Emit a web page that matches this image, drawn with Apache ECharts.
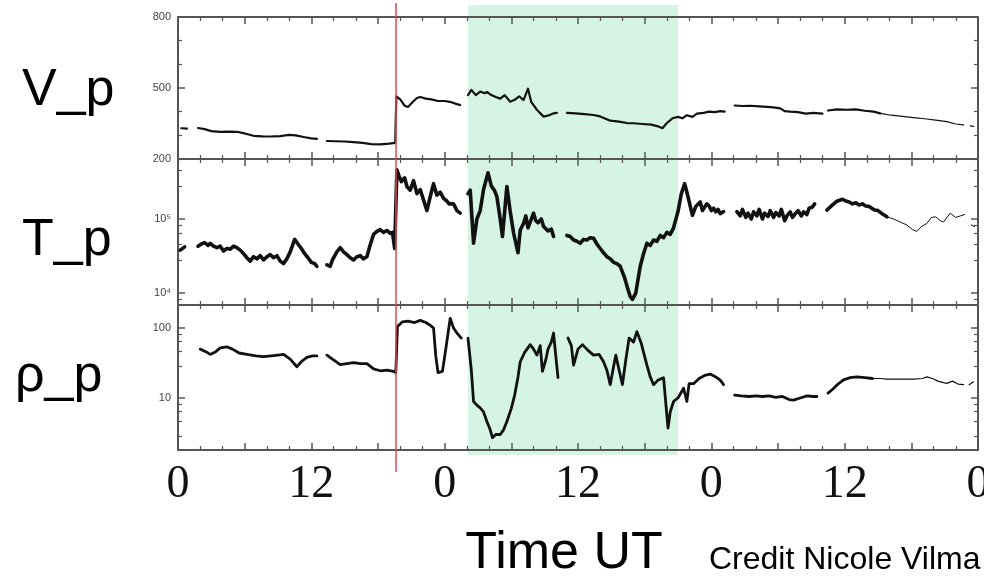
<!DOCTYPE html>
<html><head><meta charset="utf-8">
<script src="https://cdn.jsdelivr.net/npm/echarts@6/dist/echarts.min.js"></script>
<style>html,body{margin:0;padding:0;background:#fff}#c{width:984px;height:577px}</style>
</head><body><div id="c"></div>
<script>
// ---- axis / tick data ----
const hourTicks = [0, 12, 24, 36, 48, 60, 72];
const hourLabels = ['0', '12', '0', '12', '0', '12', '0'];
const vpTicks = [200, 500, 800];
const tpTicks = [1e4, 1e5];
const tpTickLabels = ['10\u2074', '10\u2075'];
const rhoTicks = [10, 100];
const rhoTickLabels = ['10', '100'];
const shockHour = 19.62;
const cloudStart = 26.1;
const cloudEnd = 45.0;

// ---- V_p (km/s) : [hour, value] ----
const vpData = [[0.3,330],[0.8,328],[1.0,null],
 [1.8,331],[2.4,326],[3.0,318],[3.8,315],[4.6,316],[5.3,315],[6.0,308],[6.8,298],[7.6,296],[8.3,295],[9.2,297],[10.0,302],[10.6,300],[11.3,293],[12.0,287],[12.5,285],[13.0,null],
 [13.4,276],[14.2,275],[15.0,274],[15.8,271],[16.6,268],[17.4,263],[18.2,262],[19.0,265],[19.55,268],[19.65,465],[20.0,452],[20.4,425],[20.7,420],[21.1,440],[21.5,458],[21.8,462],[22.3,455],[22.8,452],[23.4,445],[24.0,445],[24.6,440],[25.1,432],[25.4,428],[25.8,null],
 [26.1,470],[26.4,492],[26.8,470],[27.2,485],[27.6,478],[27.8,483],[28.2,470],[28.6,462],[29.0,455],[29.4,470],[29.9,442],[30.3,450],[30.7,465],[31.1,449],[31.5,497],[31.8,440],[32.3,408],[32.9,379],[33.4,385],[33.8,393],[34.1,395],[34.5,null],
 [35.0,395],[35.8,393],[36.6,390],[37.4,386],[38.0,380],[38.9,362],[39.7,358],[40.4,352],[41.0,351],[41.8,348],[42.6,345],[43.2,338],[43.6,330],[44.0,352],[44.5,372],[45.0,378],[45.4,372],[45.8,385],[46.3,378],[46.7,392],[47.3,395],[47.8,400],[48.3,398],[48.8,402],[49.2,400],[49.6,null],
 [50.1,426],[50.8,424],[51.5,425],[52.3,422],[53.0,420],[53.6,418],[54.2,414],[54.6,402],[55.1,400],[55.8,398],[56.5,392],[57.2,395],[58.0,392],[58.2,null],
 [58.5,405],[59.3,410],[60.2,408],[61.0,410],[61.8,404],[62.6,400],[63.2,393]];
const vpTail = [[63.2,393],[64.2,385],[65.2,380],[66.2,375],[67.2,370],[68.2,364],[69.2,358],[70.0,348],[70.7,344],[71.0,null],[71.3,340],[71.6,338]];

// ---- T_p (K) ----
const tpData = [[0.2,3.8e4],[0.6,4.2e4],[1.0,null],
 [1.8,4.3e4],[2.1,4.6e4],[2.4,4.8e4],[2.7,4.4e4],[2.9,4.7e4],[3.2,4.3e4],[3.5,4.1e4],[3.8,4.3e4],[4.1,3.7e4],[4.4,4.0e4],[4.7,3.9e4],[5.0,4.3e4],[5.3,4.1e4],[5.6,3.8e4],[5.9,3.4e4],[6.2,3.0e4],[6.5,2.7e4],[6.8,3.1e4],[7.1,2.9e4],[7.4,3.2e4],[7.7,2.8e4],[8.0,3.1e4],[8.3,3.3e4],[8.6,3.0e4],[8.9,3.2e4],[9.2,2.7e4],[9.5,2.5e4],[9.8,2.9e4],[10.1,3.6e4],[10.5,5.3e4],[10.8,4.6e4],[11.1,4.0e4],[11.4,3.4e4],[11.7,3.0e4],[12.0,2.6e4],[12.3,2.5e4],[12.5,2.3e4],[13.0,null],
 [13.4,2.4e4],[13.7,2.3e4],[13.9,2.8e4],[14.3,3.6e4],[14.6,4.1e4],[14.9,3.6e4],[15.2,3.3e4],[15.5,3.0e4],[15.8,2.8e4],[16.1,3.1e4],[16.4,3.2e4],[16.7,2.9e4],[17.0,3.1e4],[17.3,4.5e4],[17.6,6.2e4],[17.9,6.8e4],[18.2,7.2e4],[18.5,6.6e4],[18.8,7.0e4],[19.1,6.4e4],[19.3,6.6e4],[19.5,4.0e4],[19.7,4.6e5],[19.9,3.8e5],[20.1,3.2e5],[20.4,3.6e5],[20.6,2.75e5],[20.9,2.45e5],[21.2,3.3e5],[21.5,2.2e5],[21.8,2.5e5],[22.1,1.8e5],[22.4,1.3e5],[22.7,2.0e5],[23.0,3.0e5],[23.3,2.1e5],[23.6,2.3e5],[23.9,1.9e5],[24.2,1.75e5],[24.4,1.6e5],[24.8,1.6e5],[25.1,1.3e5],[25.4,1.2e5],[25.8,null],
 [26.1,2.2e5],[26.3,2.45e5],[26.6,4.7e4],[26.9,1.0e5],[27.2,1.3e5],[27.5,2.5e5],[27.9,4.2e5],[28.2,2.8e5],[28.5,2.4e5],[28.7,2.0e5],[29.0,1.0e5],[29.2,5.8e4],[29.4,1.26e5],[29.6,2.75e5],[29.9,1.26e5],[30.2,6.5e4],[30.6,3.5e4],[30.8,7.1e4],[31.1,8.7e4],[31.3,1.1e5],[31.5,7.6e4],[32.0,1.2e5],[32.2,9.5e4],[32.4,8.9e4],[32.7,1.0e5],[32.9,7.9e4],[33.3,6.9e4],[33.6,7.3e4],[33.8,5.8e4],[34.4,null],
 [35.0,6.0e4],[35.3,5.8e4],[35.6,5.2e4],[35.9,5.0e4],[36.2,4.7e4],[36.5,5.3e4],[36.8,5.2e4],[37.1,5.6e4],[37.4,5.5e4],[37.7,4.6e4],[38.0,4.0e4],[38.3,3.5e4],[38.6,3.1e4],[38.9,2.9e4],[39.2,2.6e4],[39.5,2.5e4],[39.8,2.3e4],[40.2,1.6e4],[40.5,1.12e4],[40.7,9.0e3],[40.9,8.2e3],[41.2,1.0e4],[41.6,2.3e4],[41.9,3.4e4],[42.2,4.7e4],[42.5,4.4e4],[42.8,5.2e4],[43.1,5.0e4],[43.4,6.0e4],[43.7,5.6e4],[44.0,6.6e4],[44.3,6.2e4],[44.6,7.6e4],[45.0,1.26e5],[45.3,2.2e5],[45.6,3.0e5],[45.9,2.0e5],[46.3,1.12e5],[46.6,1.48e5],[47.0,1.7e5],[47.2,1.3e5],[47.4,1.45e5],[47.6,1.6e5],[47.8,1.5e5],[48.0,1.3e5],[48.2,1.4e5],[48.4,1.25e5],[48.6,1.35e5],[48.8,1.18e5],[49.1,1.26e5],[49.6,null],
 [50.3,1.26e5],[50.6,1.1e5],[50.8,1.35e5],[51.1,1.05e5],[51.3,1.2e5],[51.6,1.0e5],[51.8,1.25e5],[52.1,1.1e5],[52.3,1.35e5],[52.6,1.0e5],[52.8,1.2e5],[53.1,1.08e5],[53.3,1.3e5],[53.6,1.05e5],[53.8,1.22e5],[54.1,1.1e5],[54.3,1.35e5],[54.6,9.5e4],[54.8,1.1e5],[55.1,1.25e5],[55.3,1.05e5],[55.6,1.2e5],[55.8,1.3e5],[56.1,1.1e5],[56.3,1.25e5],[56.6,1.15e5],[56.8,1.4e5],[57.1,1.45e5],[57.3,1.6e5],[57.8,null],
 [58.4,1.32e5],[58.8,1.5e5],[59.3,1.74e5],[59.8,1.85e5],[60.1,1.75e5],[60.4,1.7e5],[60.7,1.6e5],[61.0,1.66e5],[61.3,1.55e5],[61.6,1.6e5],[61.9,1.5e5],[62.2,1.48e5],[62.5,1.38e5],[62.7,1.32e5],[63.0,1.3e5],[63.3,1.2e5],[63.8,1.07e5]];
const tpTail = [[63.8,1.07e5],[64.4,1.0e5],[65.0,9.1e4],[65.6,8.3e4],[66.1,7.2e4],[66.5,6.8e4],[66.9,7.9e4],[67.4,8.7e4],[67.8,1.05e5],[68.2,1.07e5],[68.6,9.5e4],[68.9,9.1e4],[69.5,1.2e5],[70.0,1.05e5],[70.4,1.1e5],[70.8,1.15e5],[71.1,null],[71.4,8.3e4],[71.7,7.9e4]];

// ---- rho_p (cm^-3) ----
const rhoData = [[2.0,50],[2.5,46],[2.9,42],[3.4,46],[3.8,52],[4.4,54],[4.9,50],[5.5,44],[6.2,42],[7.0,40],[7.7,39],[8.4,40],[9.0,41],[9.5,42],[10.1,36],[10.7,28],[11.1,33],[11.6,38],[12.1,40],[12.5,40],[13.0,null],
 [13.4,41],[13.9,36],[14.6,30],[15.2,31],[15.8,32],[16.4,31],[17.0,31],[17.6,26],[18.2,24.5],[18.8,25],[19.4,24],[19.6,23],[19.75,105],[20.2,123],[20.7,126],[21.3,120],[21.8,129],[22.3,120],[22.7,110],[23.0,100],[23.2,40],[23.4,23],[23.8,24],[24.1,50],[24.5,138],[24.8,100],[25.1,85],[25.5,72],[25.8,null],
 [26.1,72],[26.4,25],[26.6,8.9],[26.9,7.9],[27.2,7.2],[27.5,6.3],[27.8,4.6],[28.1,3.5],[28.3,2.7],[28.6,3.0],[29.0,3.0],[29.3,3.5],[29.6,4.6],[30.0,7.1],[30.3,11],[30.6,20],[30.8,33],[31.2,45],[31.7,58],[32.0,50],[32.3,41],[32.6,56],[32.8,24],[33.1,35],[33.3,50],[33.6,63],[33.8,85],[34.0,40],[34.2,19.5],[34.6,null],
 [35.1,72],[35.4,56],[35.6,29.5],[36.0,50],[36.4,58],[36.9,48],[37.4,41],[37.9,42],[38.3,33],[38.6,25],[38.9,15.5],[39.2,28],[39.4,41],[39.7,25],[40.0,15.5],[40.3,35],[40.6,72],[41.0,63],[41.3,89],[41.7,60],[42.2,29.5],[42.5,20],[42.8,15.5],[43.2,18],[43.7,19.5],[44.1,3.7],[44.3,6.3],[44.6,8.9],[45.0,10],[45.5,13.8],[45.8,8.9],[46.0,16],[46.4,16],[46.9,19],[47.4,21],[47.9,22],[48.4,20],[48.8,18],[49.1,15.5],[49.6,null],
 [50.1,11],[50.7,10.7],[51.4,10.5],[52.0,10.7],[52.6,10.5],[53.2,10.7],[53.8,10.2],[54.4,10.5],[55.0,9.5],[55.4,9.3],[56.0,10],[56.6,10.7],[57.2,10.5],[57.5,10.5],[58.0,null],
 [58.5,11.7],[58.9,13.2],[59.4,15.8],[59.9,18.2],[60.5,19.5],[61.1,20],[61.8,19.5],[62.5,19]];
const rhoTail = [[62.5,19],[63.2,19],[63.8,18.6],[64.6,18.6],[65.4,18.6],[66.2,18.6],[67.0,19],[67.4,20],[67.9,19],[68.4,17.4],[68.9,16.6],[69.2,16.2],[69.7,17.4],[70.2,15.8],[70.7,15.5],[71.0,null],[71.2,15.5],[71.6,17]];

// ---- layout ----
const gridBase = {left: 178, right: 6, containLabel: false, outerBoundsMode: 'none'};
const grids = [
  Object.assign({top: 17, height: 142}, gridBase),
  Object.assign({top: 159, height: 146}, gridBase),
  Object.assign({top: 305, height: 145}, gridBase)
];
const axisColor = '#555';
const tickFont = {fontFamily: 'Liberation Sans', fontSize: 11, color: '#444'};

function xAx(gi, pos, labels) {
  return {
    type: 'value', gridIndex: gi, position: pos, min: 0, max: 72, interval: 6,
    axisLine: {show: true, onZero: false, lineStyle: {color: axisColor, width: 2}},
    axisTick: {show: true, inside: true, length: 7, lineStyle: {color: axisColor, width: 1.5}},
    minorTick: {show: true, splitNumber: 3, length: 4, lineStyle: {color: axisColor, width: 1.2}},
    splitLine: {show: false},
    axisLabel: labels ? {
      show: true, margin: 12, fontFamily: 'Liberation Serif', fontSize: 46, color: '#111',
      hideOverlap: false, showMinLabel: true, showMaxLabel: true,
      formatter: v => { const i = hourTicks.indexOf(v); return i >= 0 ? hourLabels[i] : ''; }
    } : {show: false}
  };
}
function logFmt(ticks, labels) {
  return v => {
    for (let i = 0; i < ticks.length; i++) if (Math.abs(v - ticks[i]) / ticks[i] < 1e-6) return labels[i];
    return '';
  };
}
function yAx(gi, pos, base, showLabel) {
  const ax = {
    gridIndex: gi, position: pos, type: base.type, min: base.min, max: base.max,
    axisLine: {show: true, onZero: false, lineStyle: {color: axisColor, width: 2}},
    axisTick: {show: true, inside: true, length: 7, lineStyle: {color: axisColor, width: 1.5}},
    minorTick: {show: true, splitNumber: base.minorSplit, length: 4, lineStyle: {color: axisColor, width: 1.2}},
    splitLine: {show: false}
  };
  if (base.interval) ax.interval = base.interval;
  if (base.logBase) ax.logBase = base.logBase;
  ax.axisLabel = showLabel ? Object.assign({show: true, margin: 7, hideOverlap: false, showMinLabel: true, showMaxLabel: true, formatter: base.fmt}, tickFont) : {show: false};
  return ax;
}
const yBases = [
  {type: 'value', min: 200, max: 800, interval: 300, minorSplit: 3,
   fmt: v => (vpTicks.indexOf(v) >= 0 ? String(v) : '')},
  {type: 'log', logBase: 10, min: 6900, max: 646000, minorSplit: 5, fmt: logFmt(tpTicks, tpTickLabels)},
  {type: 'log', logBase: 10, min: 1.8, max: 214, minorSplit: 5, fmt: logFmt(rhoTicks, rhoTickLabels)}
];

const xAxes = [], yAxes = [];
for (let g = 0; g < 3; g++) {
  xAxes.push(xAx(g, 'bottom', g === 2));
  xAxes.push(xAx(g, 'top', false));
  yAxes.push(yAx(g, 'left', yBases[g], true));
  yAxes.push(yAx(g, 'right', yBases[g], false));
}

function lineSeries(data, g, w) {
  return {
    type: 'line', data: data, xAxisIndex: 2 * g, yAxisIndex: 2 * g,
    showSymbol: false, symbol: 'none', connectNulls: false, silent: true,
    lineStyle: {color: '#111', width: w, join: 'round', cap: 'round'}, z: 5
  };
}

const chart = echarts.init(document.getElementById('c'), null, {renderer: 'canvas'});
chart.setOption({
  animation: false,
  backgroundColor: '#fff',
  grid: grids,
  xAxis: xAxes,
  yAxis: yAxes,
  series: [
    lineSeries(vpData, 0, 2.2), lineSeries(vpTail, 0, 1.2),
    lineSeries(tpData, 1, 3.6), lineSeries(tpTail, 1, 1),
    lineSeries(rhoData, 2, 2.8), lineSeries(rhoTail, 2, 1.2)
  ]
});

const px = h => chart.convertToPixel({xAxisIndex: 0}, h);
const xs = px(cloudStart), xe = px(cloudEnd), xShock = px(shockHour);
const sideFont = '52px "Liberation Sans", Arial, sans-serif';
chart.setOption({
  graphic: [
    {type: 'rect', z: -10, silent: true, shape: {x: xs, y: 5, width: xe - xs, height: 450}, style: {fill: '#d5f4e4'}},
    {type: 'line', z: 50, silent: true, shape: {x1: xShock, y1: 3, x2: xShock, y2: 472}, style: {stroke: '#e0474f', lineWidth: 1.5}},
    {type: 'text', z: 50, style: {text: 'V_p', x: 22, y: 91, font: sideFont, fill: '#000', textAlign: 'left', textVerticalAlign: 'middle'}},
    {type: 'text', z: 50, style: {text: 'T_p', x: 22, y: 241, font: sideFont, fill: '#000', textAlign: 'left', textVerticalAlign: 'middle'}},
    {type: 'text', z: 50, style: {text: '\u03c1_p', x: 15, y: 377, font: sideFont, fill: '#000', textAlign: 'left', textVerticalAlign: 'middle'}},
    {type: 'text', z: 50, style: {text: 'Time UT', x: 564, y: 554, font: sideFont, fill: '#000', textAlign: 'center', textVerticalAlign: 'middle'}},
    {type: 'text', z: 50, style: {text: 'Credit Nicole Vilma', x: 709, y: 560, font: '32px "Liberation Sans", Arial, sans-serif', fill: '#000', textAlign: 'left', textVerticalAlign: 'middle'}}
  ]
});
</script></body></html>
